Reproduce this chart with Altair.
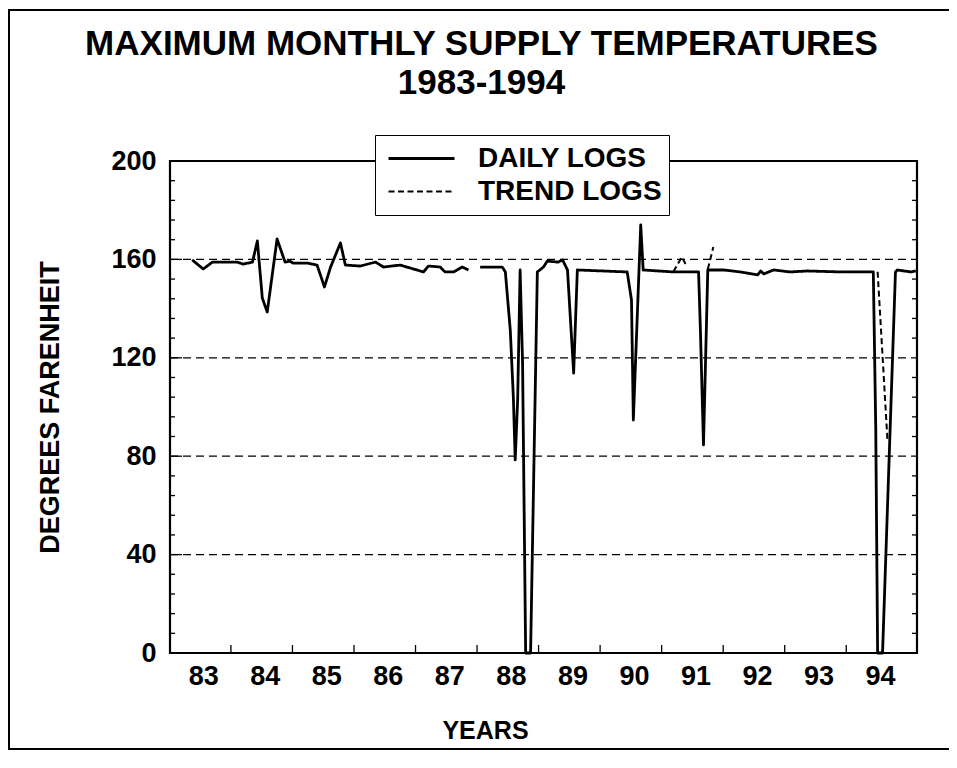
import altair as alt
import pandas as pd

FONT = "Liberation Sans"

# ---- data (x in year-label units: 83 = 1983 label position) ----
daily_x_a = [82.82, 83.00, 83.15, 83.55, 83.65, 83.80, 83.88, 83.96, 84.04, 84.20,
             84.33, 84.41, 84.46, 84.69, 84.85, 84.97, 85.07, 85.23, 85.31, 85.55,
             85.80, 85.93, 86.20, 86.58, 86.66, 86.85, 86.93, 87.07, 87.21, 87.31]
daily_y_a = [159.8, 156.1, 158.9, 158.9, 158.1, 158.9, 167.5, 144.3, 138.6, 168.3,
             158.9, 159.3, 158.5, 158.5, 157.7, 148.8, 156.9, 166.7, 157.7, 157.3,
             158.9, 156.9, 157.7, 154.9, 157.3, 156.9, 154.9, 154.9, 156.9, 155.7]
daily_x_b = [87.50, 87.86, 87.91, 87.99, 88.04, 88.07, 88.11, 88.15, 88.19, 88.24,
             88.32, 88.43, 88.53, 88.59, 88.77, 88.84, 88.92, 89.02, 89.08, 89.89,
             89.96, 89.99, 90.11, 90.15, 90.64, 91.05, 91.08, 91.13, 91.20, 91.46,
             91.73, 92.01, 92.06, 92.11, 92.27, 92.54, 92.82, 93.36, 93.89, 93.93,
             93.96, 94.04, 94.25, 94.28, 94.50, 94.58]
daily_y_b = [156.9, 156.9, 154.9, 131.3, 104.1, 78.5, 102.8, 155.7, 117.9, 0.0,
             0.0, 154.9, 156.9, 159.3, 158.9, 159.8, 155.7, 113.8, 155.7, 154.9,
             143.5, 94.7, 174.0, 155.7, 154.9, 154.9, 131.3, 84.6, 155.7, 155.7,
             154.9, 153.7, 155.3, 154.1, 155.7, 154.9, 155.3, 154.9, 154.9, 90.7,
             0.0, 0.0, 154.9, 155.7, 154.9, 155.3]

trend_x_a = [90.64, 90.78, 90.86]
trend_y_a = [155.0, 161.0, 157.0]
trend_x_b = [91.20, 91.29]
trend_y_b = [156.0, 165.0]
trend_x_c = [93.96, 94.12]
trend_y_c = [155.0, 86.5]

series_names = ["DAILY LOGS", "TREND LOGS"]
year_labels = [83, 84, 85, 86, 87, 88, 89, 90, 91, 92, 93, 94]
year_ticks = [83.45, 84.45, 85.45, 86.45, 87.45, 88.45, 89.45, 90.45, 91.45, 92.45, 93.45]
y_labels = [0, 40, 80, 120, 160, 200]
y_grid = [40, 80, 120, 160]
y_minor_ticks = [v for v in range(8, 200, 8) if v % 40 != 0]

rows = []
for sx, sy, name, seg in [
    (daily_x_a, daily_y_a, series_names[0], "d1"),
    (daily_x_b, daily_y_b, series_names[0], "d2"),
    (trend_x_a, trend_y_a, series_names[1], "t1"),
    (trend_x_b, trend_y_b, series_names[1], "t2"),
    (trend_x_c, trend_y_c, series_names[1], "t3"),
]:
    for a, b in zip(sx, sy):
        rows.append({"x": a, "y": b, "series": name, "seg": seg})
df = pd.DataFrame(rows)

W, H = 747, 492
XT, YT = "YEARS", "DEGREES FARENHEIT"
xs = alt.Scale(domain=[82.46, 94.6], nice=False, zero=False)
ys = alt.Scale(domain=[0, 200], nice=False, zero=False)

lines = alt.Chart(df).mark_line(color="black", strokeJoin="round").encode(
    x=alt.X("x:Q", scale=xs, title=XT,
            axis=alt.Axis(values=year_labels, format="d", ticks=False, domain=False,
                          grid=False, labelPadding=10, labelFontSize=27,
                          titleX=315, titleY=85, titleAlign="center",
                          titleBaseline="alphabetic", titleFontSize=25)),
    y=alt.Y("y:Q", scale=ys, title=YT,
            axis=alt.Axis(values=y_labels, ticks=False, domain=False, grid=False,
                          labelPadding=14, labelFontSize=27,
                          titleX=-112, titleY=H / 2, titleAngle=270,
                          titleAlign="center", titleBaseline="alphabetic",
                          titleFontSize=27)),
    strokeDash=alt.StrokeDash(
        "series:N",
        scale=alt.Scale(domain=series_names, range=[[1, 0], [6, 3.5]]),
        legend=alt.Legend(title=None, orient="none", legendX=205, legendY=-26,
                          symbolType="stroke", symbolSize=4356,
                          symbolStrokeWidth=2.6, symbolStrokeColor="black",
                          clipHeight=33, labelFont=FONT, labelFontSize=28,
                          labelFontWeight="bold", labelColor="black",
                          labelOffset=22, padding=7, strokeColor="black",
                          fillColor="white", rowPadding=0, symbolOffset=5,
                          labelLimit=400)),
    strokeWidth=alt.StrokeWidth("series:N",
                                scale=alt.Scale(domain=series_names, range=[2.8, 2.0]),
                                legend=None),
    detail="seg:N",
)

grid = alt.Chart(pd.DataFrame({"v": y_grid})).mark_rule(
    color="black", strokeWidth=1.3, strokeDash=[8, 5]).encode(
    y=alt.Y("v:Q", scale=ys, title=YT), x=alt.value(0), x2=alt.value(W))

tick_common = dict(color="black", strokeWidth=1.3)
y_major_left = alt.Chart(pd.DataFrame({"v": y_grid})).mark_rule(**tick_common).encode(
    y=alt.Y("v:Q", scale=ys, title=YT), x=alt.value(0), x2=alt.value(12))
y_minor_left = alt.Chart(pd.DataFrame({"v": y_minor_ticks})).mark_rule(**tick_common).encode(
    y=alt.Y("v:Q", scale=ys, title=YT), x=alt.value(0), x2=alt.value(5))
y_minor_right = alt.Chart(pd.DataFrame({"v": y_minor_ticks})).mark_rule(**tick_common).encode(
    y=alt.Y("v:Q", scale=ys, title=YT), x=alt.value(W - 5), x2=alt.value(W))
x_ticks = alt.Chart(pd.DataFrame({"v": year_ticks})).mark_rule(**tick_common).encode(
    x=alt.X("v:Q", scale=xs, title=XT), y=alt.value(H - 8), y2=alt.value(H))

frame = alt.Chart(pd.DataFrame({"a": [0]})).mark_rect(
    fill="transparent", stroke="black", strokeWidth=2).encode(
    x=alt.value(-161), x2=alt.value(W + 150), y=alt.value(-151), y2=alt.value(H + 96))

chart = alt.layer(lines, grid, y_major_left, y_minor_left, y_minor_right, x_ticks, frame).properties(
    width=W, height=H,
    background="white",
    autosize=alt.AutoSizeParams(type="none"),
    padding={"left": 162, "top": 153, "right": 32, "bottom": 98},
    title=alt.TitleParams(
        text=["MAXIMUM MONTHLY SUPPLY TEMPERATURES", "1983-1994"],
        font=FONT, fontSize=35, fontWeight="bold", color="black",
        anchor="middle", dx=-62, offset=0, dy=92, lineHeight=39),
).configure_view(stroke="black", strokeWidth=2.2).configure_axis(
    labelFont=FONT, labelFontWeight="bold", labelColor="black",
    titleFont=FONT, titleFontWeight="bold", titleColor="black",
)

chart.save("out.html", embed_options={"renderer": "svg", "actions": False})
